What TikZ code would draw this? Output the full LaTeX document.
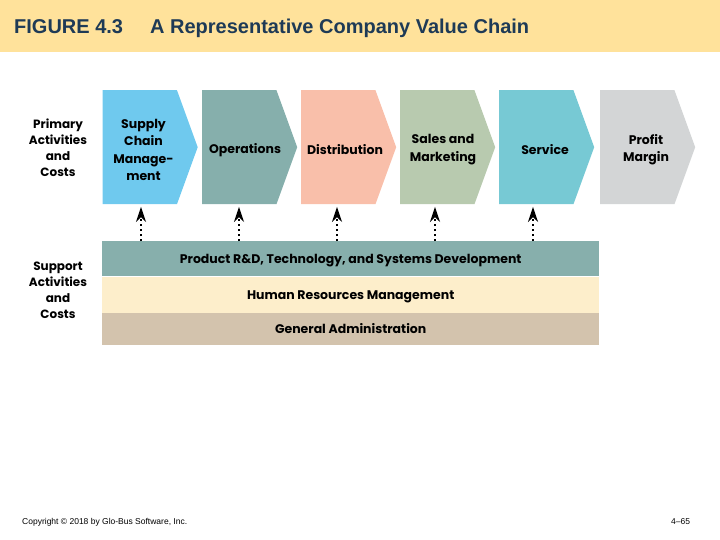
\documentclass[tikz,border=0pt]{standalone}
\usepackage{fontspec}
\setmainfont{Liberation Sans}
\newfontfamily\chainfont{Poppins}
\usetikzlibrary{arrows.meta, positioning, shapes.symbols}
\usepackage{xcolor}

\definecolor{titlebg}{HTML}{FFE29B}
\definecolor{titletx}{HTML}{1E3A56}
\definecolor{cSupply}{HTML}{6FC9EE}
\definecolor{cOper}{HTML}{86AFAC}
\definecolor{cDist}{HTML}{F9BFAA}
\definecolor{cSales}{HTML}{B8CAAF}
\definecolor{cServ}{HTML}{77C9D4}
\definecolor{cProfit}{HTML}{D3D5D6}
\definecolor{cRD}{HTML}{87AFAC}
\definecolor{cHR}{HTML}{FDEECB}
\definecolor{cGA}{HTML}{D3C3AD}

\begin{document}
\begin{tikzpicture}[
    x=1pt, y=-1pt,
    every node/.style = {align=center},
    chev/.style    = {shape=signal, signal to=east, signal from=nowhere,
                      signal pointer angle=140, minimum width=95pt, minimum height=114pt,
                      inner sep=0pt, anchor=north west},
    chevtxt/.style = {font=\chainfont\bfseries\fontsize{12.5}{17.5}\selectfont,
                      inner sep=0pt, yshift=-2.5pt},
    supbar/.style  = {minimum width=497pt, inner sep=0pt, anchor=north west,
                      text height=9pt, text depth=0pt,
                      font=\chainfont\bfseries\fontsize{12.5}{15}\selectfont},
    sidelbl/.style = {font=\chainfont\bfseries\fontsize{12}{16}\selectfont},
    suparr/.style  = {-{Stealth[length=15pt,width=10pt]}, line width=2.2pt,
                      dash pattern=on 2.4pt off 2.6pt},
    titletxt/.style = {anchor=base west, inner sep=0pt, text=titletx,
                      font=\bfseries\fontsize{20}{24}\selectfont},
    foot/.style    = {anchor=base west, inner sep=0pt, font=\fontsize{8.5}{10}\selectfont},
]
\useasboundingbox (0,0) rectangle (720,540);

%% Title bar
\node[fill=titlebg, minimum width=720pt, minimum height=52pt, inner sep=0pt, anchor=north west] (bar) at (0,0) {};
\node[titletxt] (fig)   at (14,34)  {FIGURE 4.3};
\node[titletxt] (title) at (150,34) {A Representative Company Value Chain};

%% Primary activities
\node[chev, fill=cSupply] (sc)   at (102.5,90) {};
\node[chev, fill=cOper]   (op)   at (202,90)   {};
\node[chev, fill=cDist]   (dist) at (301,90)   {};
\node[chev, fill=cSales]  (sm)   at (400,90)   {};
\node[chev, fill=cServ]   (serv) at (499,90)   {};
\node[chev, fill=cProfit] (pm)   at (600,90)   {};

%% Chevron labels
\node[chevtxt] (sct)   at ([xshift=41pt]sc.west)   {Supply\\Chain\\Manage-\\ment};
\node[chevtxt] (opt)   at ([xshift=43pt]op.west)   {Operations};
\node[chevtxt] (distt) at ([xshift=44pt]dist.west) {Distribution};
\node[chevtxt] (smt)   at ([xshift=43pt]sm.west)   {Sales and\\Marketing};
\node[chevtxt] (servt) at ([xshift=46pt]serv.west) {Service};
\node[chevtxt] (pmt)   at ([xshift=46pt]pm.west)   {Profit\\Margin};

%% Support activities
\node[supbar, fill=cRD, minimum height=35pt] (rd) at (102,241)
    {Product R\&D, Technology, and Systems Development};
\node[supbar, fill=cHR, minimum height=36pt, below=0pt of rd.south west, anchor=north west] (hr)
    {Human Resources Management};
\node[supbar, fill=cGA, minimum height=31.5pt, below=0pt of hr.south west, anchor=north west] (ga)
    {General Administration};

%% Side labels
\node[sidelbl] (prim) at (58,148) {Primary\\Activities\\and\\Costs};
\node[sidelbl] (supp) at (58,290) {Support\\Activities\\and\\Costs};

%% Support arrows
\draw[suparr] ([xshift=38.5pt]sc.south west   |- rd.north) -- ([xshift=38.5pt,yshift=-2.5pt]sc.south west);
\draw[suparr] ([xshift=37pt]op.south west     |- rd.north) -- ([xshift=37pt,yshift=-2.5pt]op.south west);
\draw[suparr] ([xshift=36pt]dist.south west   |- rd.north) -- ([xshift=36pt,yshift=-2.5pt]dist.south west);
\draw[suparr] ([xshift=35pt]sm.south west     |- rd.north) -- ([xshift=35pt,yshift=-2.5pt]sm.south west);
\draw[suparr] ([xshift=34pt]serv.south west   |- rd.north) -- ([xshift=34pt,yshift=-2.5pt]serv.south west);

%% Footer
\node[foot] (copy) at (22,524) {Copyright \textcopyright\ 2018 by Glo-Bus Software, Inc.};
\node[foot] (page) at (671,524) {4--65};

\end{tikzpicture}
\end{document}
